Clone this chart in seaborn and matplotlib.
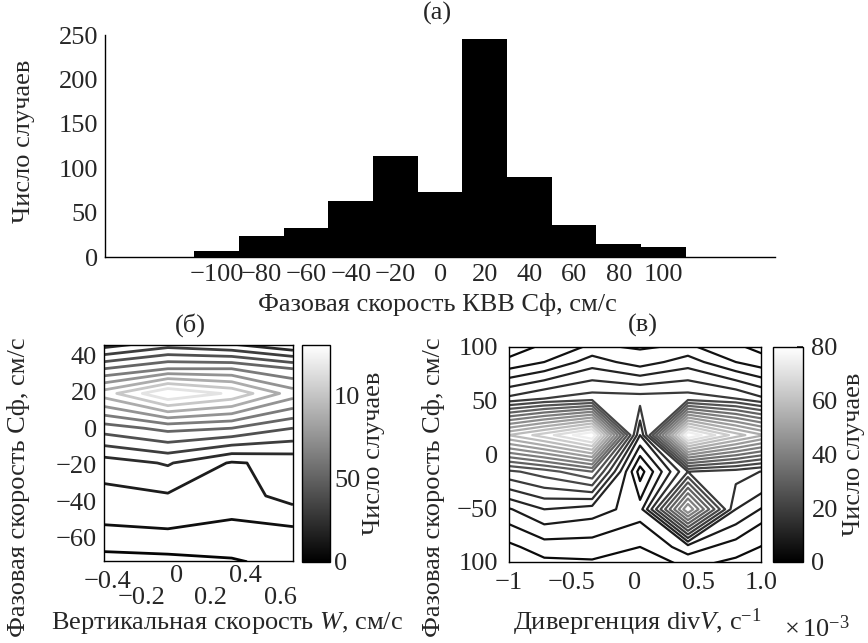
import matplotlib
matplotlib.use('Agg')
import matplotlib.pyplot as plt
import seaborn as sns
import numpy as np
from matplotlib.colors import Normalize, PowerNorm

# Стиль
sns.set_theme(style='white')
plt.rcParams['font.family'] = ['Liberation Serif', 'DejaVu Serif']
plt.rcParams['mathtext.fontset'] = 'custom'
plt.rcParams['mathtext.rm'] = 'Liberation Serif'
plt.rcParams['mathtext.it'] = 'Liberation Serif:italic'
plt.rcParams['font.size'] = 19
plt.rcParams['xtick.direction'] = 'in'
plt.rcParams['ytick.direction'] = 'in'
plt.rcParams['axes.edgecolor'] = 'black'
plt.rcParams['axes.linewidth'] = 1.0

# ---------------------------------------------------------------------------
# Данные
# ---------------------------------------------------------------------------
# (a) гистограмма фазовой скорости КВВ
vph_centers = [-100, -80, -60, -40, -20, 0, 20, 40, 60, 80, 100]
vph_counts = [7, 24, 33, 63, 114, 73, 246, 90, 36, 15, 11]

# (б) число случаев: вертикальная скорость W (x) / фазовая скорость (y)
w_nodes = [-0.42, -0.05, 0.32, 0.675]
cb_nodes = [-73, -55, -37, -19, 0, 19, 32.5, 46]
counts_b = [
    [0.6, 0.7, 0.9, 1.3],
    [1.9, 2.0, 1.8, 1.9],
    [2.7, 2.9, 2.5, 3.4],
    [3.5, 4.1, 2.9, 3.3],
    [6.5, 7.3, 7.0, 6.0],
    [10.5, 13.0, 11.8, 9.5],
    [7.0, 8.0, 8.0, 7.0],
    [3.5, 4.5, 4.0, 3.0],
]
cbar_b_ticks = [0, 5, 10]
cbar_b_labels = ['0', '50', '10']

# (в) число случаев: дивергенция divV (x) / фазовая скорость (y)
div_nodes = [-1.1, -0.72, -0.34, 0.04, 0.42, 0.80, 1.18]
cv_nodes = [-121, -86, -51, -16, 18, 52, 86, 121]
counts_v = [
    [2, 3, 4, 4, 4, 3, 2],
    [6, 10, 10, 8, 14, 10, 6],
    [14, 20, 18, 14, 56, 20, 12],
    [30, 34, 40, 6, 28, 26, 22],
    [62, 70, 80, 20, 80, 66, 56],
    [24, 28, 30, 30, 30, 28, 22],
    [8, 12, 18, 14, 18, 12, 8],
    [2, 4, 6, 8, 6, 4, 2],
]
v_yticks = [-100, -50, 0, 50, 100]
v_ylabels = ['100', '\u221250', '0', '50', '100']

fig = plt.figure(figsize=(8.68, 6.43), dpi=100)

# ============================================================================
# (a) Гистограмма
# ============================================================================
ax_a = fig.add_axes([0.121, 0.6003, 0.772, 0.345])
bin_edges = [c - 10 for c in vph_centers] + [vph_centers[-1] + 10]
sns.histplot(x=vph_centers, weights=vph_counts, bins=bin_edges, color='black',
             alpha=1, linewidth=0, ax=ax_a)
ax_a.set_xlim(-150, 150)
ax_a.set_ylim(0, 250)
ax_a.set_xticks(vph_centers)
ax_a.set_yticks(range(0, 251, 50))
ax_a.spines['top'].set_visible(False)
ax_a.spines['right'].set_visible(False)
ax_a.tick_params(axis='both', length=4, pad=5, labelsize=19)
ax_a.set_ylabel('Число случаев', fontsize=19)
ax_a.yaxis.set_label_coords(-0.105, 0.52)
ax_a.set_xlabel('Фазовая скорость КВВ Сф, см/с', fontsize=19)
ax_a.xaxis.set_label_coords(0.496, -0.16)
ax_a.text(0.496, 1.10, '(a)', transform=ax_a.transAxes, ha='center',
          va='center', fontsize=19)

# ============================================================================
# (б) Контуры W / Сф
# ============================================================================
ax_b = fig.add_axes([0.1198, 0.1275, 0.2177, 0.336])
Wg, Cg = np.meshgrid(w_nodes, cb_nodes)
ax_b.contour(Wg, Cg, np.array(counts_b), levels=np.arange(1, 13, 1),
             cmap='gray', norm=PowerNorm(1.5, vmin=0, vmax=13), linewidths=2.0)
ax_b.set_xlim(-0.42, 0.675)
ax_b.set_ylim(-72.6, 45.5)
ax_b.set_xticks([-0.4, -0.2, 0, 0.2, 0.4, 0.6])
ax_b.set_xticklabels(['\u22120.4', '\u22120.2', '0', '0.2', '0.4', '0.6'])
ax_b.set_yticks([-60, -40, -20, 0, 20, 40])
ax_b.tick_params(axis='both', length=4, labelsize=19)
ax_b.tick_params(axis='y', pad=5)
for t, pad in zip(ax_b.xaxis.get_major_ticks(), [7, 19, 3, 19, 3, 19]):
    t.set_pad(pad)
ax_b.set_ylabel('Фазовая скорость Сф, см/с', fontsize=19)
ax_b.yaxis.set_label_coords(-0.39, 0.34)
ax_b.set_xlabel('Вертикальная скорость $\\mathit{W}$, см/с', fontsize=19)
ax_b.xaxis.set_label_coords(0.65, -0.225)
ax_b.text(0.455, 1.09, '(б)', transform=ax_b.transAxes, ha='center',
          va='center', fontsize=19)

cax_b = fig.add_axes([0.348, 0.126, 0.032, 0.3375])
sm_b = plt.cm.ScalarMappable(norm=Normalize(0, 13), cmap='gray')
cb_b = fig.colorbar(sm_b, cax=cax_b)
cb_b.set_ticks(cbar_b_ticks)
cb_b.set_ticklabels(cbar_b_labels)
cb_b.ax.tick_params(direction='in', length=4, pad=3, labelsize=19)
cb_b.outline.set_linewidth(1.0)
cb_b.set_label('Число случаев', fontsize=19, labelpad=2)

# ============================================================================
# (в) Контуры divV / Сф
# ============================================================================
ax_v = fig.add_axes([0.5864, 0.126, 0.2903, 0.3344])
Dg, Vg = np.meshgrid(div_nodes, cv_nodes)
ax_v.contour(Dg, Vg, np.array(counts_v), levels=np.arange(4, 80, 4),
             cmap='gray', norm=PowerNorm(1.4, vmin=0, vmax=80), linewidths=1.6)
ax_v.set_xlim(-1, 1)
ax_v.set_ylim(-100, 100)
ax_v.set_xticks([-1, -0.5, 0, 0.5, 1.0])
ax_v.set_xticklabels(['\u22121', '\u22120.5', '0', '0.5', '1.0'])
ax_v.set_yticks(v_yticks)
ax_v.set_yticklabels(v_ylabels)
ax_v.tick_params(axis='both', length=4, labelsize=19)
ax_v.tick_params(axis='x', pad=7)
ax_v.tick_params(axis='y', pad=8)
ax_v.set_ylabel('Фазовая скорость Сф, см/с', fontsize=19)
ax_v.yaxis.set_label_coords(-0.254, 0.35)
ax_v.set_xlabel('Дивергенция div$\\mathit{V}$, с$^{-1}$', fontsize=19)
ax_v.xaxis.set_label_coords(0.51, -0.205)
ax_v.text(1.22, -0.31, '$\\times\\,10^{-3}$', transform=ax_v.transAxes,
          ha='center', va='center', fontsize=19)
ax_v.text(0.53, 1.10, '(в)', transform=ax_v.transAxes, ha='center',
          va='center', fontsize=19)

cax_v = fig.add_axes([0.8906, 0.126, 0.0346, 0.3344])
sm_v = plt.cm.ScalarMappable(norm=Normalize(0, 80), cmap='gray')
cb_v = fig.colorbar(sm_v, cax=cax_v)
cb_v.set_ticks([0, 20, 40, 60, 80])
cb_v.ax.tick_params(direction='in', length=4, pad=6, labelsize=19)
cb_v.outline.set_linewidth(1.0)
cb_v.set_label('Число случаев', fontsize=19, labelpad=4)

fig.savefig('out.png', dpi=100)
plt.close(fig)
